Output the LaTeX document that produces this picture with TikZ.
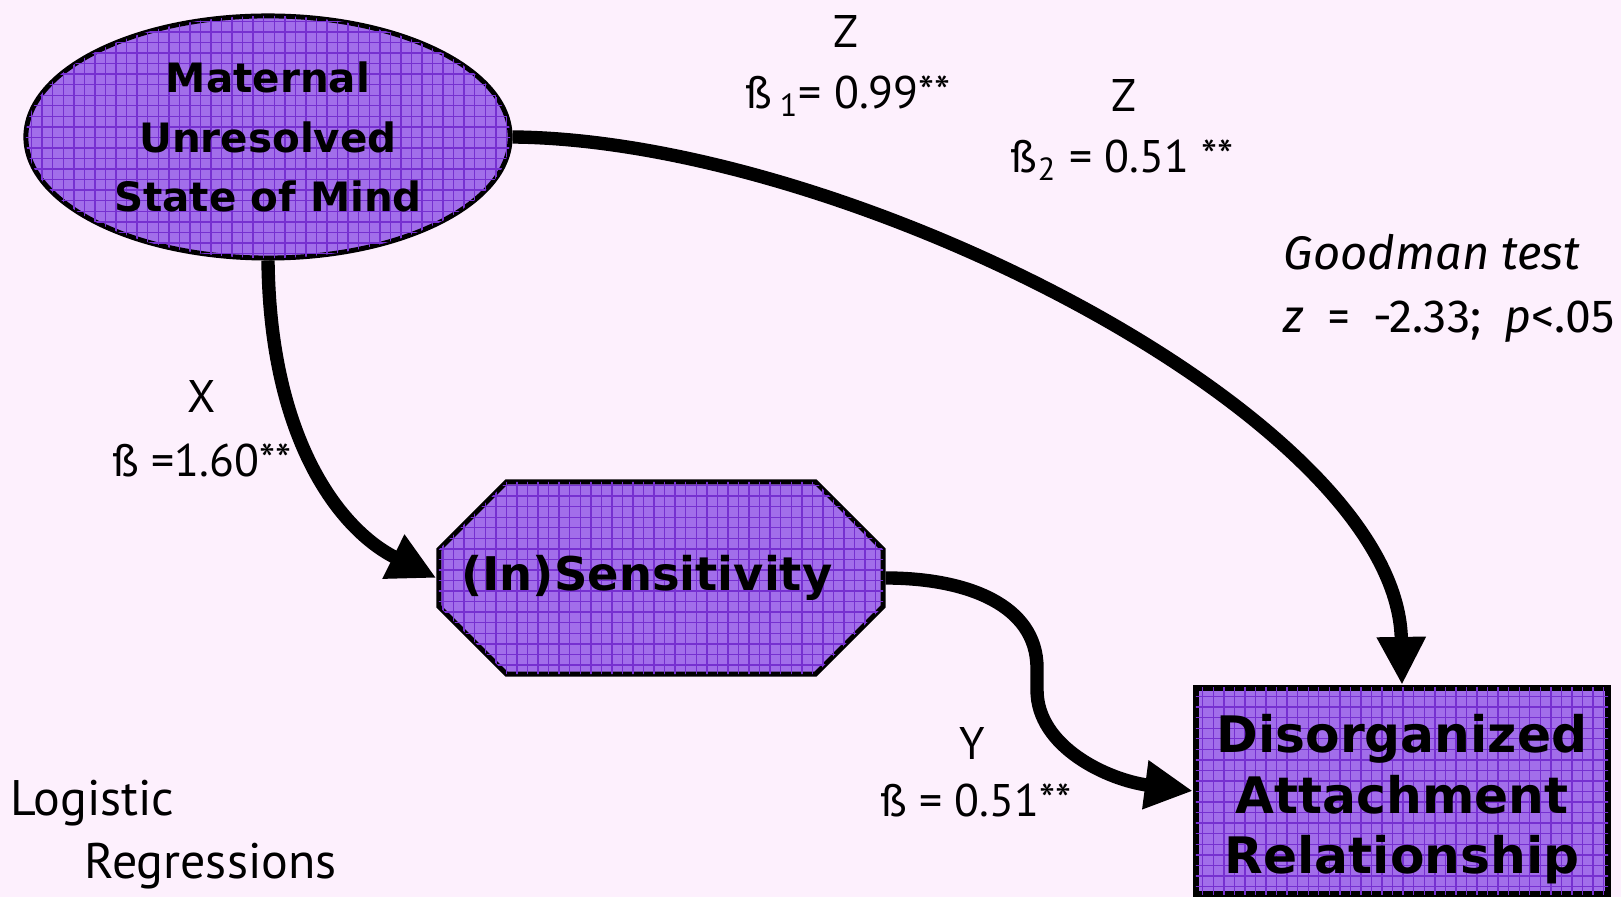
\documentclass[tikz,border=0pt]{standalone}
\usepackage{fontspec}
\setmainfont{PT Sans}
\newfontfamily\boxfont{DejaVu Sans}
\newfontfamily\testfont{Fira Sans}
\usepackage{xcolor}
\usetikzlibrary{arrows.meta,shapes.geometric,shapes.misc,patterns}

\definecolor{bgpink}{RGB}{253,240,253}
\definecolor{nodefill}{RGB}{162,110,234}
\definecolor{gridline}{RGB}{118,48,208}

\begin{document}
\begin{tikzpicture}[
    x=0.01cm, y=-0.01cm,
    var/.style={draw, line width=1.4pt, fill=nodefill,
        postaction={pattern=grid, pattern color=gridline},
        align=center, inner sep=0pt},
    lab/.style={align=center, inner sep=0pt, font=\fontsize{13}{15}\selectfont},
    arr/.style={-{Triangle[length=4.8mm,width=4.6mm]}, line width=3.8pt}
]
    \fill[bgpink] (0,0) rectangle (1621,897);

    % variables
    \node[var, ellipse, minimum width=4.84cm, minimum height=2.42cm,
        font=\fontsize{11.5}{17}\selectfont\boxfont\bfseries] (mum) at (268,137)
        {Maternal\\Unresolved\\State of Mind};
    \node[var, chamfered rectangle, chamfered rectangle xsep=0.45cm,
        chamfered rectangle ysep=0.45cm, minimum width=4.37cm,
        minimum height=1.92cm,
        font=\fontsize{13.2}{17}\selectfont\boxfont\bfseries] (sens) at (661,578)
        {(In)Sensitivity\hspace*{8pt}};
    \node[var, rectangle, line width=1.7pt, minimum width=4.12cm,
        minimum height=2.06cm,
        font=\fontsize{14.3}{17.2}\selectfont\boxfont\bfseries] (att) at (1402,791)
        {\rule{0pt}{15.5pt}Disorganized\\Attachment\\Relationship};

    % paths
    \draw[arr] (mum.south) .. controls (270,440) and (340,530) .. (sens.west);
    \draw[arr] (mum.east) .. controls (850,140) and (1398,420) .. (att.north);
    \draw[arr] (sens.east) .. controls (967,578) and (1037,605) .. (1037,668)
        -- (1037,690) .. controls (1037,747) and (1108,780) .. (att.west);

    % coefficients
    \node[lab] (zone) at (846,32) {Z};
    \node[lab] (bone) at (848,96) {ß\,\textsubscript{1}= 0.99**};
    \node[lab] (ztwo) at (1124,96) {Z};
    \node[lab] (btwo) at (1122,160) {ß\textsubscript{2} = 0.51 **};
    \node[lab] (xlab) at (202,397) {X};
    \node[lab] (bx) at (202,460) {ß =1.60**};
    \node[lab] (ylab) at (972,744) {Y};
    \node[lab] (by) at (976,800) {ß = 0.51**};
    \node[lab, anchor=west, font=\fontsize{13.4}{15}\selectfont\testfont\itshape] (good) at (1283,252) {Goodman test};
    \node[lab, anchor=west, font=\fontsize{13.2}{15}\selectfont\testfont] (ztest) at (1283,322)
        {\textit{z}\hspace{.5em}=\hspace{.5em}-2.33;\hspace{.5em}\textit{p}<.05};
    \node[lab, anchor=west, font=\fontsize{14.2}{16}\selectfont] (logi) at (10,803) {Logistic};
    \node[lab, anchor=west, font=\fontsize{14.2}{16}\selectfont] (regr) at (84,866) {Regressions};
\end{tikzpicture}
\end{document}
